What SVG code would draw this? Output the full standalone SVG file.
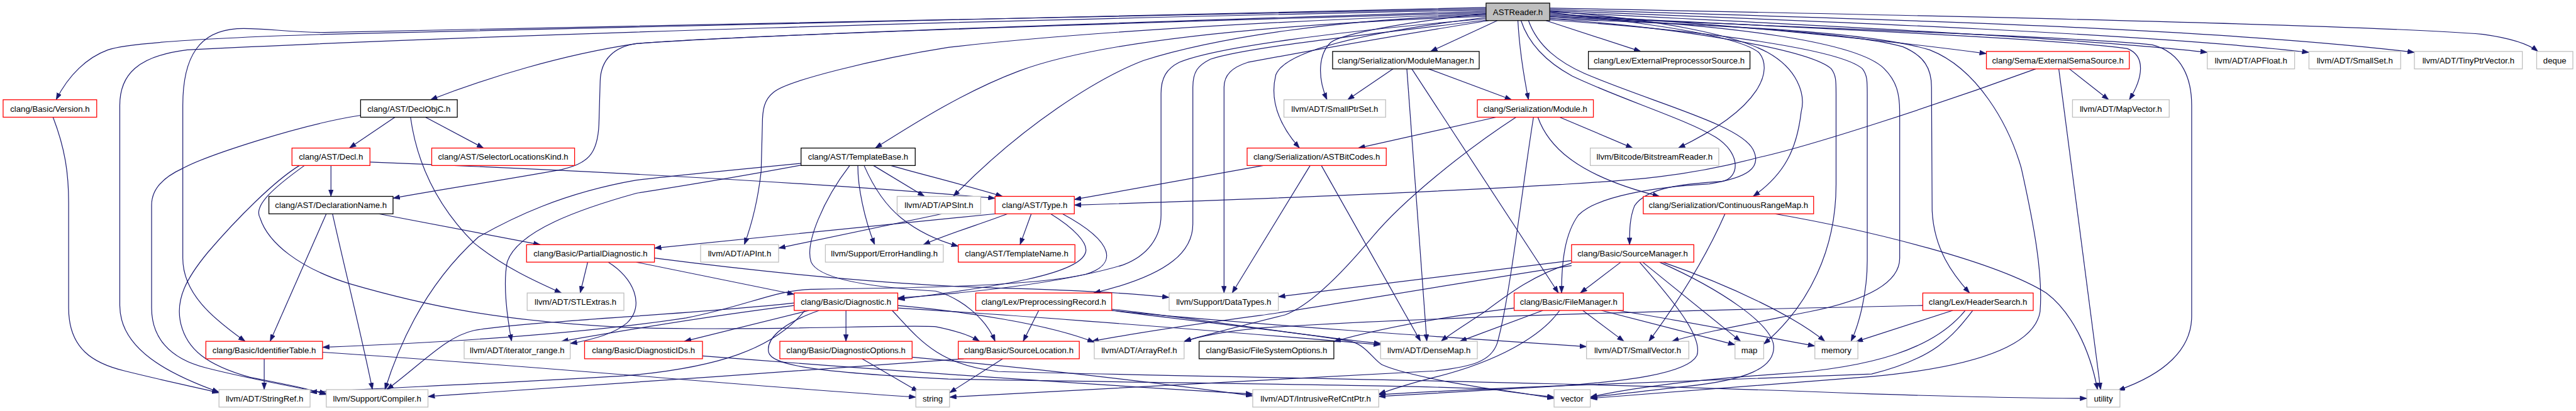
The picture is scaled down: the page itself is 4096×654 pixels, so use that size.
<svg xmlns="http://www.w3.org/2000/svg" width="4096" height="654" viewBox="0 0 4096 654">
<style>
.n rect{stroke-width:1.3}
.red rect{stroke:#ff0000;fill:#ffffff}
.blk rect{stroke:#000000;fill:#ffffff}
.gry rect{stroke:#bfbfbf;fill:#ffffff}
.root rect{stroke:#000000;fill:#bfbfbf}
.n text{font-family:"Liberation Sans",Arial,Helvetica,sans-serif;font-size:13.33px;text-anchor:middle;fill:#000000}
#edges path{fill:none;stroke:#191970;stroke-width:1.2;marker-end:url(#ah)}
</style>
<defs>
<marker id="ah" viewBox="0 0 11 8" refX="11" refY="4" markerWidth="11" markerHeight="8" markerUnits="userSpaceOnUse" orient="auto">
<path d="M0,0 L11,4 L0,8 Z" fill="#191970" stroke="#191970" stroke-width="0.5"/>
</marker>
</defs>
<rect x="0" y="0" width="4096" height="654" fill="#ffffff"/>
<g transform="scale(0.992)">
<g id="edges">
<path d="M2400,33 L2293,82.5"/>
<path d="M2478,33 L2630,82.5"/>
<path d="M2484,22 C2800,40 3050,68 3184,86"/>
<path d="M2484,19 C2900,40 3350,62 3538,84"/>
<path d="M2484,17 C2950,35 3450,55 3701,84"/>
<path d="M2484,15 C3000,30 3550,45 3870,84"/>
<path d="M2484,13 C3100,25 3800,40 3980,55 C4030,62 4055,72 4068,82.5"/>
<path d="M2382,12 C1500,28 900,45 520,55 C300,62 200,70 173,80 C140,92 110,120 90,160"/>
<path d="M2382,14 C1600,30 900,50 520,52 C460,52 420,44 380,46 C320,50 293,90 293,169 L293,414 C293,470 340,510 393,547.5"/>
<path d="M2382,16 C1600,32 800,55 300,80 C220,90 192,120 192,169 L192,490 C192,560 270,600 351,629"/>
<path d="M85,188 C105,240 110,280 110,325 L110,494 C110,560 150,583 200,595 C260,610 300,618 351,630"/>
<path d="M2382,18 C1600,42 1150,60 1020,70 C900,88 780,125 690,160"/>
<path d="M2382,20 C1700,40 1150,58 1020,70 C985,75 963,95 962,130 L960,199 C958,250 940,262 900,272 C800,290 700,305 630,318"/>
<path d="M2382,26 C2000,40 1750,70 1633,114 C1550,145 1470,195 1403,237.5"/>
<path d="M2382,24 C2150,30 1950,60 1833,97 C1760,125 1640,200 1528,315"/>
<path d="M2382,22 C2000,35 1700,55 1520,76 C1400,95 1260,130 1240,148 C1225,160 1222,175 1222,200 L1220,275 C1215,320 1205,360 1193,392.5"/>
<path d="M2382,30 C2150,50 1950,75 1890,100 C1870,110 1861,125 1861,150 L1861,345 C1861,380 1840,410 1800,425 C1700,455 1550,470 1439,478"/>
<path d="M2384,32 C2200,55 2000,75 1940,95 C1920,105 1912,115 1912,140 L1912,359 C1912,400 1880,440 1753,470"/>
<path d="M2386,33 C2250,55 2080,85 2000,100 C1975,108 1962,120 1962,140 L1962,470"/>
<path d="M2382,22 C2250,35 2150,55 2133,68 C2115,85 2110,120 2127,160"/>
<path d="M2382,28 C2200,50 2060,80 2045,120 C2035,160 2050,200 2083,237.5"/>
<path d="M2433,33 C2435,70 2440,110 2450,160"/>
<path d="M2484,24 C2900,45 3300,62 3410,78 C3440,90 3435,125 3413,160"/>
<path d="M2484,26 C2900,45 3350,60 3450,72 C3500,85 3513,130 3513,169 L3513,507 C3513,560 3470,600 3395,626"/>
<path d="M2484,28 C2800,42 2980,55 3050,75 C3085,90 3096,110 3096,140 L3097,338 C3100,400 3130,440 3157,470"/>
<path d="M2484,30 C2800,42 3000,52 3093,80 C3170,110 3220,200 3240,270 C3260,360 3275,440 3270,500 C3260,560 3150,590 3000,604 C2800,620 2650,632 2549,639"/>
<path d="M2484,18 C2650,30 2780,55 2833,84 C2880,110 2895,150 2887,180 C2880,240 2860,280 2810,315"/>
<path d="M2484,20 C2650,38 2790,58 2820,85 C2840,110 2830,170 2690,237.5"/>
<path d="M2438,33 C2450,70 2480,100 2520,122 C2600,160 2700,190 2750,220 C2790,245 2790,285 2760,291 C2700,295 2640,300 2620,330 C2612,350 2612,370 2612,392.5"/>
<path d="M2450,33 C2465,75 2500,100 2540,118 C2650,165 2790,200 2810,240 C2825,270 2800,285 2740,295 C2650,300 2560,315 2530,345 C2508,375 2503,420 2503,470"/>
<path d="M2484,30 C2700,45 2900,80 2935,110 C2943,120 2943,130 2943,150 L2943,296 C2943,400 2900,490 2827,552"/>
<path d="M2484,32 C2750,50 2950,80 2985,110 C2993,120 2993,130 2993,150 L2993,418 C2993,470 2980,520 2967,547.5"/>
<path d="M2484,26 C2800,40 2980,70 3020,110 C3040,130 3045,150 3045,180 L3045,414 C3045,450 3000,480 2900,500 C2800,520 2720,535 2680,547.5"/>
<path d="M2233,110.5 L2160,160"/>
<path d="M2290,110.5 L2423,160"/>
<path d="M2255,110.5 L2287,547.5"/>
<path d="M2263,110.5 L2498,470"/>
<path d="M2398,188 L2177,237.5"/>
<path d="M2500,188 L2617,237.5"/>
<path d="M2465,188 C2480,230 2520,280 2660,315"/>
<path d="M2430,188 C2350,240 2250,320 2200,380 C2150,440 2100,490 2060,505 C2000,520 1940,535 1898,547.5"/>
<path d="M2458,188 C2440,300 2420,480 2400,550 C2390,580 2360,588 2300,595 C2000,610 1700,625 1522,637"/>
<path d="M2025,265.5 L1722,320"/>
<path d="M2100,265.5 L1975,470"/>
<path d="M2118,265.5 L2277,547.5"/>
<path d="M3263,110.5 C3100,170 2900,235 2817,253 C2700,285 2600,290 2500,296 C2300,308 2000,320 1722,329"/>
<path d="M3317,110.5 L3380,160"/>
<path d="M3300,110.5 L3367,625"/>
<path d="M2845,343 C3000,370 3200,420 3280,470 C3320,500 3350,560 3362,625"/>
<path d="M2765,343 C2740,400 2700,470 2643,547.5"/>
<path d="M1375,265.5 C1375,300 1385,350 1402,392.5"/>
<path d="M1400,265.5 L1482,315"/>
<path d="M1428,265.5 C1470,278 1530,292 1607,315"/>
<path d="M1385,265.5 C1400,300 1420,330 1445,350 C1470,370 1500,385 1536,395"/>
<path d="M1362,265.5 C1320,320 1290,390 1300,420 C1310,445 1380,460 1500,467 C1540,478 1580,510 1595,547.5"/>
<path d="M1284,262 C1150,275 1050,285 1020,289 C900,310 820,350 767,380 C700,440 650,520 617,625"/>
<path d="M1284,265 C1150,290 1050,305 1020,310 C930,335 830,370 813,420 C805,460 815,520 820,547.5"/>
<path d="M1595,343 L1049,398"/>
<path d="M1510,343 L1248,398"/>
<path d="M1615,343 C1570,360 1520,375 1480,392.5"/>
<path d="M1653,343 L1635,392.5"/>
<path d="M1684,343 C1720,365 1745,390 1740,405 C1730,440 1600,460 1439,480"/>
<path d="M1703,343 C1790,390 1790,425 1740,440 C1650,460 1450,462 1300,464 C1240,466 1200,490 1100,510 C900,540 650,552 517,557"/>
<path d="M633,188 L560,237.5"/>
<path d="M682,188 L775,237.5"/>
<path d="M658,188 C668,260 700,330 760,390 C810,430 860,452 900,470"/>
<path d="M578,185 C480,200 330,250 293,270 C260,285 243,305 243,329 L243,494 C243,540 270,575 330,590 C400,608 470,620 523,631"/>
<path d="M530.5,265.5 L530.5,315"/>
<path d="M593,260 C900,272 1300,292 1595,318"/>
<path d="M488,265.5 C440,300 405,330 417,350 C430,390 480,430 560,455 C680,490 800,515 1000,525 C1200,532 1450,520 1500,524 C1530,530 1555,538 1570,547.5"/>
<path d="M480,265.5 C440,290 380,350 333,405 C300,445 280,480 290,520 C300,560 330,585 400,605 C450,615 490,622 523,633"/>
<path d="M607,343 L866,392.5"/>
<path d="M523,343 L433,547.5"/>
<path d="M533,343 C550,420 580,540 597,625"/>
<path d="M942,420.5 L930,470"/>
<path d="M975,420.5 C1015,445 1035,490 1005,518 C985,535 950,545 914,551"/>
<path d="M1020,420.5 L1273,472"/>
<path d="M1049,414 C1250,440 1450,458 1600,462 C1720,465 1800,469 1874,477"/>
<path d="M1297,498 L1097,547.5"/>
<path d="M1356,498 L1356,547.5"/>
<path d="M1439,490 C1550,500 1680,520 1754,549"/>
<path d="M1439,494 C1700,510 2000,535 2213,553"/>
<path d="M1313,498 C1250,520 1228,545 1232,565 C1236,585 1300,597 1520,608 C1900,615 2300,618 2400,625 C2440,630 2470,636 2491,639"/>
<path d="M1290,498 C1240,560 1150,590 1000,603 C800,615 620,622 497,629"/>
<path d="M1273,490 C1150,505 1000,530 900,547.5"/>
<path d="M1273,486 C1100,505 850,515 760,530 C715,540 680,580 620,625"/>
<path d="M1430,498 C1470,540 1500,585 1600,596 C2000,606 2500,612 3000,632 C3200,638 3300,639 3345,639"/>
<path d="M1665,498 L1640,547.5"/>
<path d="M1782,496 C1950,515 2100,540 2213,551"/>
<path d="M1782,498 C2000,520 2300,540 2543,556"/>
<path d="M1782,498 C1950,520 2100,535 2167,548 C2190,555 2200,575 2215,585 C2260,605 2400,628 2491,637"/>
<path d="M2427,494 C2300,510 2200,530 2138,548"/>
<path d="M2537,498 L2603,547.5"/>
<path d="M2567,498 L2781,553"/>
<path d="M2593,498 C2700,515 2800,535 2909,555"/>
<path d="M2473,498 L2340,547.5"/>
<path d="M2500,498 C2470,540 2400,580 2300,605 C2260,615 2230,625 2210,632"/>
<path d="M2598,420.5 L2533,470"/>
<path d="M2519,418 L2049,476"/>
<path d="M2519,422 C2460,440 2420,470 2380,500 C2350,520 2325,535 2310,547.5"/>
<path d="M2633,420.5 L2790,547.5"/>
<path d="M2660,420.5 C2760,465 2840,520 2843,555 C2845,590 2800,610 2700,620 C2640,627 2590,633 2549,637"/>
<path d="M2665,420.5 C2780,460 2880,510 2925,547.5"/>
<path d="M2628,420.5 C2680,480 2730,540 2720,570 C2705,600 2600,612 2500,619 C2400,625 2300,630 2210,636"/>
<path d="M2519,426 C2300,460 2100,495 2020,506 C1900,522 1800,538 1750,547.5"/>
<path d="M3130,498 L2975,548"/>
<path d="M3150,498 C3100,560 3000,590 2850,600 C2700,610 2600,625 2549,637"/>
<path d="M3162,498 C3130,540 3100,575 3000,600 C2700,612 2550,617 2550,617 C2400,622 2300,628 2210,633"/>
<path d="M3082,490 C2700,498 2300,508 2020,526 C1960,532 1920,540 1898,548"/>
<path d="M423.5,575.5 L423.5,625"/>
<path d="M517,565 C900,590 1200,620 1468,637"/>
<path d="M1126,571 C1500,600 1800,620 2008,632"/>
<path d="M1382,575.5 L1472,628"/>
<path d="M1462,573 C1700,595 1900,620 2008,635"/>
<path d="M1607,575.5 L1522,630"/>
<path d="M1545,575.5 C1300,595 900,620 686,636"/>
</g>
<g id="n_astreader" class="n root"><rect x="2382" y="5" width="102" height="28"/><text x="2433" y="24">ASTReader.h</text></g>
<g id="n_modulemanager" class="n blk"><rect x="2136" y="82.5" width="235" height="28"/><text x="2253.5" y="101.5">clang/Serialization/ModuleManager.h</text></g>
<g id="n_extpp" class="n blk"><rect x="2546" y="82.5" width="259" height="28"/><text x="2675.5" y="101.5">clang/Lex/ExternalPreprocessorSource.h</text></g>
<g id="n_extsema" class="n red"><rect x="3184" y="82.5" width="229" height="28"/><text x="3298.5" y="101.5">clang/Sema/ExternalSemaSource.h</text></g>
<g id="n_apfloat" class="n gry"><rect x="3538" y="82.5" width="140" height="28"/><text x="3608" y="101.5">llvm/ADT/APFloat.h</text></g>
<g id="n_smallset" class="n gry"><rect x="3701" y="82.5" width="147" height="28"/><text x="3774.5" y="101.5">llvm/ADT/SmallSet.h</text></g>
<g id="n_tinyptrvector" class="n gry"><rect x="3870" y="82.5" width="173" height="28"/><text x="3956.5" y="101.5">llvm/ADT/TinyPtrVector.h</text></g>
<g id="n_deque" class="n gry"><rect x="4066" y="82.5" width="58" height="28"/><text x="4095" y="101.5">deque</text></g>
<g id="n_version" class="n red"><rect x="5" y="160" width="150" height="28"/><text x="80" y="179">clang/Basic/Version.h</text></g>
<g id="n_declobjc" class="n blk"><rect x="578" y="160" width="155" height="28"/><text x="655.5" y="179">clang/AST/DeclObjC.h</text></g>
<g id="n_smallptrset" class="n gry"><rect x="2058" y="160" width="163" height="28"/><text x="2139.5" y="179">llvm/ADT/SmallPtrSet.h</text></g>
<g id="n_module" class="n red"><rect x="2368" y="160" width="186" height="28"/><text x="2461" y="179">clang/Serialization/Module.h</text></g>
<g id="n_mapvector" class="n gry"><rect x="3322" y="160" width="155" height="28"/><text x="3399.5" y="179">llvm/ADT/MapVector.h</text></g>
<g id="n_decl" class="n red"><rect x="468" y="237.5" width="125" height="28"/><text x="530.5" y="256.5">clang/AST/Decl.h</text></g>
<g id="n_selloc" class="n red"><rect x="692" y="237.5" width="229" height="28"/><text x="806.5" y="256.5">clang/AST/SelectorLocationsKind.h</text></g>
<g id="n_templatebase" class="n blk"><rect x="1284" y="237.5" width="183" height="28"/><text x="1375.5" y="256.5">clang/AST/TemplateBase.h</text></g>
<g id="n_astbitcodes" class="n red"><rect x="1999" y="237.5" width="223" height="28"/><text x="2110.5" y="256.5">clang/Serialization/ASTBitCodes.h</text></g>
<g id="n_bitstream" class="n gry"><rect x="2549" y="237.5" width="206" height="28"/><text x="2652" y="256.5">llvm/Bitcode/BitstreamReader.h</text></g>
<g id="n_declname" class="n blk"><rect x="431" y="315" width="199" height="28"/><text x="530.5" y="334">clang/AST/DeclarationName.h</text></g>
<g id="n_apsint" class="n gry"><rect x="1438" y="315" width="134" height="28"/><text x="1505" y="334">llvm/ADT/APSInt.h</text></g>
<g id="n_type" class="n red"><rect x="1595" y="315" width="127" height="28"/><text x="1658.5" y="334">clang/AST/Type.h</text></g>
<g id="n_crm" class="n red"><rect x="2634" y="315" width="273" height="28"/><text x="2770.5" y="334">clang/Serialization/ContinuousRangeMap.h</text></g>
<g id="n_partialdiag" class="n red"><rect x="844" y="392.5" width="205" height="28"/><text x="946.5" y="411.5">clang/Basic/PartialDiagnostic.h</text></g>
<g id="n_apint" class="n gry"><rect x="1123" y="392.5" width="125" height="28"/><text x="1185.5" y="411.5">llvm/ADT/APInt.h</text></g>
<g id="n_errorhandling" class="n gry"><rect x="1323" y="392.5" width="189" height="28"/><text x="1417.5" y="411.5">llvm/Support/ErrorHandling.h</text></g>
<g id="n_templatename" class="n red"><rect x="1536" y="392.5" width="187" height="28"/><text x="1629.5" y="411.5">clang/AST/TemplateName.h</text></g>
<g id="n_sourcemanager" class="n red"><rect x="2519" y="392.5" width="196" height="28"/><text x="2617" y="411.5">clang/Basic/SourceManager.h</text></g>
<g id="n_stlextras" class="n gry"><rect x="845" y="470" width="155" height="28"/><text x="922.5" y="489">llvm/ADT/STLExtras.h</text></g>
<g id="n_diagnostic" class="n red"><rect x="1273" y="470" width="166" height="28"/><text x="1356" y="489">clang/Basic/Diagnostic.h</text></g>
<g id="n_pprecord" class="n red"><rect x="1564" y="470" width="218" height="28"/><text x="1673" y="489">clang/Lex/PreprocessingRecord.h</text></g>
<g id="n_datatypes" class="n gry"><rect x="1874" y="470" width="175" height="28"/><text x="1961.5" y="489">llvm/Support/DataTypes.h</text></g>
<g id="n_filemanager" class="n red"><rect x="2427" y="470" width="175" height="28"/><text x="2514.5" y="489">clang/Basic/FileManager.h</text></g>
<g id="n_headersearch" class="n red"><rect x="3082" y="470" width="177" height="28"/><text x="3170.5" y="489">clang/Lex/HeaderSearch.h</text></g>
<g id="n_identtable" class="n red"><rect x="330" y="547.5" width="187" height="28"/><text x="423.5" y="566.5">clang/Basic/IdentifierTable.h</text></g>
<g id="n_iterrange" class="n gry"><rect x="744" y="547.5" width="170" height="28"/><text x="829" y="566.5">llvm/ADT/iterator_range.h</text></g>
<g id="n_diagids" class="n red"><rect x="937" y="547.5" width="189" height="28"/><text x="1031.5" y="566.5">clang/Basic/DiagnosticIDs.h</text></g>
<g id="n_diagopts" class="n red"><rect x="1250" y="547.5" width="212" height="28"/><text x="1356" y="566.5">clang/Basic/DiagnosticOptions.h</text></g>
<g id="n_sourceloc" class="n red"><rect x="1536" y="547.5" width="194" height="28"/><text x="1633" y="566.5">clang/Basic/SourceLocation.h</text></g>
<g id="n_arrayref" class="n gry"><rect x="1754" y="547.5" width="144" height="28"/><text x="1826" y="566.5">llvm/ADT/ArrayRef.h</text></g>
<g id="n_fsopts" class="n blk"><rect x="1922" y="547.5" width="216" height="28"/><text x="2030" y="566.5">clang/Basic/FileSystemOptions.h</text></g>
<g id="n_densemap" class="n gry"><rect x="2213" y="547.5" width="155" height="28"/><text x="2290.5" y="566.5">llvm/ADT/DenseMap.h</text></g>
<g id="n_smallvector" class="n gry"><rect x="2543" y="547.5" width="164" height="28"/><text x="2625" y="566.5">llvm/ADT/SmallVector.h</text></g>
<g id="n_map" class="n gry"><rect x="2781" y="547.5" width="46" height="28"/><text x="2804" y="566.5">map</text></g>
<g id="n_memory" class="n gry"><rect x="2909" y="547.5" width="69" height="28"/><text x="2943.5" y="566.5">memory</text></g>
<g id="n_stringref" class="n gry"><rect x="351" y="625" width="146" height="28"/><text x="424" y="644">llvm/ADT/StringRef.h</text></g>
<g id="n_compiler" class="n gry"><rect x="523" y="625" width="163" height="28"/><text x="604.5" y="644">llvm/Support/Compiler.h</text></g>
<g id="n_string" class="n gry"><rect x="1468" y="625" width="54" height="28"/><text x="1495" y="644">string</text></g>
<g id="n_ircp" class="n gry"><rect x="2008" y="625" width="202" height="28"/><text x="2109" y="644">llvm/ADT/IntrusiveRefCntPtr.h</text></g>
<g id="n_vector" class="n gry"><rect x="2491" y="625" width="58" height="28"/><text x="2520" y="644">vector</text></g>
<g id="n_utility" class="n gry"><rect x="3345" y="625" width="53" height="28"/><text x="3371.5" y="644">utility</text></g>
</g>
</svg>
